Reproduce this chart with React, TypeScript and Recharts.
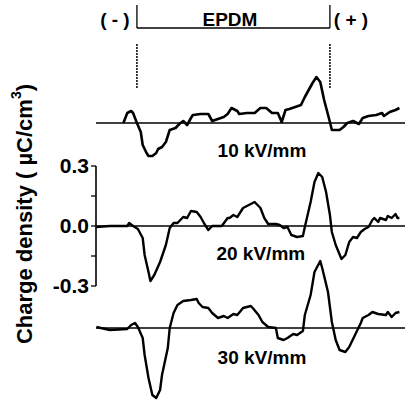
import React from "react";
import { LineChart, Line, XAxis, YAxis, ReferenceLine, ReferenceDot } from "recharts";

// position across the sample, % of thickness ((-) electrode = 0, (+) electrode = 100)
const pos10 = [-7, -5, -3, -2, 0, 2, 3, 5, 6, 8, 10, 11, 13, 15, 17, 20, 22, 24, 26, 28, 29, 33, 37, 39, 42, 45, 47, 49, 52, 53, 57, 61, 64, 67, 70, 73, 75, 77, 79, 82, 85, 87, 91, 93, 95, 97, 100, 101, 105, 107, 109, 112, 115, 117, 120, 124, 127, 128, 131, 134, 136];
const q10 = [0, 0.05, 0.06, 0.05, 0, -0.045, -0.11, -0.15, -0.165, -0.165, -0.15, -0.13, -0.12, -0.095, -0.035, -0.025, -0.005, 0.01, -0.01, 0.025, 0.04, 0.045, 0.045, 0.01, 0.02, 0.03, 0.045, 0.075, 0.06, 0.045, 0.05, 0.05, 0.075, 0.075, 0.05, 0.05, 0.005, 0.065, 0.07, 0.08, 0.09, 0.13, 0.2, 0.23, 0.205, 0.115, 0.005, -0.035, -0.035, -0.02, 0, 0.01, -0.005, 0.025, 0.035, 0.04, 0.05, 0.035, 0.055, 0.065, 0.075];

const pos20 = [-21, -14, -5, -4, -2, 0.5, 3, 4, 6, 7, 9, 12, 15, 17, 19, 21, 24, 26, 28, 31, 33, 35, 37, 39, 44, 47, 48, 50, 52, 55, 59, 61, 64, 66, 68, 72, 74, 76, 78, 80, 83, 86, 87, 90, 92, 94, 96, 98, 100, 101, 103, 106, 108, 110, 112, 114, 116, 118, 120, 122, 123, 125, 126, 129, 130, 132, 134, 135, 136];
const q20 = [-0.005, 0, 0, 0.015, 0, -0.015, -0.06, -0.145, -0.23, -0.275, -0.245, -0.18, -0.095, -0.01, 0.015, 0.015, 0.045, 0.04, 0.075, 0.07, 0.045, 0.01, -0.02, 0, 0, 0.04, 0.04, 0.055, 0.045, 0.09, 0.11, 0.12, 0.09, 0.04, 0.01, 0.01, 0.005, -0.01, -0.005, -0.045, -0.055, -0.05, -0.005, 0.12, 0.22, 0.265, 0.245, 0.17, 0.055, -0.03, -0.095, -0.165, -0.145, -0.08, -0.055, -0.06, -0.03, -0.015, -0.005, 0.03, 0.04, 0.02, 0.04, 0.03, 0.05, 0.04, 0.06, 0.04, 0.04];

const pos30 = [-21, -14, -5, -3, -1, 0.5, 3, 4, 6, 8, 10, 12, 13, 16, 17, 19, 21, 24, 28, 31, 32, 34, 37, 39, 42, 45, 47, 50, 52, 55, 59, 60, 63, 65, 68, 72, 73, 76, 78, 81, 83, 86, 87, 90, 92, 95, 96, 99, 101, 103, 105, 108, 110, 113, 116, 117, 120, 122, 125, 129, 130, 132, 134, 136];
const q30 = [0.005, -0.01, -0.005, 0.015, 0.025, 0.005, -0.05, -0.135, -0.25, -0.335, -0.35, -0.31, -0.235, -0.1, 0, 0.075, 0.115, 0.135, 0.14, 0.145, 0.125, 0.105, 0.1, 0.075, 0.05, 0.06, 0.05, 0.07, 0.065, 0.1, 0.11, 0.1, 0.065, 0.03, 0.005, 0, -0.05, -0.06, -0.05, -0.03, -0.035, -0.015, 0.065, 0.165, 0.28, 0.335, 0.3, 0.18, 0.03, -0.06, -0.11, -0.12, -0.095, -0.035, 0.025, 0.05, 0.065, 0.08, 0.07, 0.065, 0.08, 0.055, 0.075, 0.08];

// vertical offsets of the stacked curves
const OFFSET_10 = 0.515;
const OFFSET_20 = 0;
const OFFSET_30 = -0.51;

const yTicks = [0.3, 0.15, 0, -0.15, -0.3];
const fieldLabels = ["10 kV/mm", "20 kV/mm", "30 kV/mm"];

const X_MIN = -21.2;
const X_MAX = 138.9;

const build = (xs: number[], qs: number[], off: number) =>
  xs.map((x, i) => ({ x, y: qs[i] + off }));

const d10 = build(pos10, q10, OFFSET_10);
const d20 = build(pos20, q20, OFFSET_20);
const d30 = build(pos30, q30, OFFSET_30);

const FONT = "'Liberation Sans', Arial, Helvetica, sans-serif";
const txt = { fill: "#000", fontSize: 19, fontWeight: "bold" as const, fontFamily: FONT };

const YLabel = () => (
  <text
    x={24}
    y={214}
    transform="rotate(-90 24 214)"
    textAnchor="middle"
    dominantBaseline="central"
    fill="#000"
    fontSize={22}
    fontWeight="bold"
    fontFamily={FONT}
  >
    Charge density ( µC/cm
    <tspan dy={-8} fontSize={14}>3</tspan>
    <tspan dy={8}>)</tspan>
  </text>
);

export default function App() {
  return (
    <div style={{ position: "absolute", left: 0, top: 0, background: "#fff", fontFamily: FONT }}>
      <LineChart width={405} height={401} margin={{ top: 0, right: 0, bottom: 0, left: 0 }}>
        <XAxis type="number" dataKey="x" domain={[X_MIN, X_MAX]} allowDataOverflow hide />
        <YAxis
          type="number"
          domain={[-0.875, 1.13]}
          allowDataOverflow
          width={96}
          ticks={yTicks}
          interval={0}
          axisLine={false}
          tickLine={{ stroke: "#000", strokeWidth: 1.3 }}
          tickSize={5}
          tickMargin={2}
          tick={{ ...txt, fontSize: 21 }}
          tickFormatter={(v: number) => (Math.abs(v) === 0.15 ? "" : v.toFixed(1))}
          label={<YLabel />}
        />

        {/* short y axis */}
        <ReferenceLine
          segment={[{ x: X_MIN, y: -0.3 }, { x: X_MIN, y: 0.3 }]}
          stroke="#000"
          strokeWidth={1.6}
          ifOverflow="visible"
        />

        {/* baselines */}
        <ReferenceLine y={OFFSET_10} stroke="#000" strokeWidth={1.6} />
        <ReferenceLine y={OFFSET_20} stroke="#000" strokeWidth={1.6} />
        <ReferenceLine y={OFFSET_30} stroke="#000" strokeWidth={1.6} />

        {/* electrodes */}
        <ReferenceLine segment={[{ x: 0, y: 0.69 }, { x: 0, y: 0.915 }]} stroke="#000" strokeWidth={1.5} strokeDasharray="2 1" />
        <ReferenceLine segment={[{ x: 100, y: 0.69 }, { x: 100, y: 0.915 }]} stroke="#000" strokeWidth={1.5} strokeDasharray="2 1" />

        {/* EPDM bracket */}
        <ReferenceLine segment={[{ x: 0, y: 0.99 }, { x: 100, y: 0.99 }]} stroke="#000" strokeWidth={1.3} />
        <ReferenceLine segment={[{ x: 0, y: 0.99 }, { x: 0, y: 1.105 }]} stroke="#000" strokeWidth={1.3} />
        <ReferenceLine segment={[{ x: 100, y: 0.99 }, { x: 100, y: 1.105 }]} stroke="#000" strokeWidth={1.3} />

        <ReferenceDot x={48.2} y={1.035} r={0} stroke="none" fill="none" label={{ value: "EPDM", position: "center", ...txt }} />
        <ReferenceDot x={-11.4} y={1.035} r={0} stroke="none" fill="none" label={{ value: "( - )", position: "center", ...txt }} />
        <ReferenceDot x={110.9} y={1.035} r={0} stroke="none" fill="none" label={{ value: "( + )", position: "center", ...txt }} />

        <ReferenceDot x={64.8} y={0.38} r={0} stroke="none" fill="none" label={{ value: fieldLabels[0], position: "center", ...txt }} />
        <ReferenceDot x={64.2} y={-0.135} r={0} stroke="none" fill="none" label={{ value: fieldLabels[1], position: "center", ...txt }} />
        <ReferenceDot x={64.8} y={-0.655} r={0} stroke="none" fill="none" label={{ value: fieldLabels[2], position: "center", ...txt }} />

        <Line data={d10} dataKey="y" type="linear" stroke="#000" strokeWidth={2.6} strokeLinejoin="round" dot={false} isAnimationActive={false} />
        <Line data={d20} dataKey="y" type="linear" stroke="#000" strokeWidth={2.4} strokeLinejoin="round" dot={false} isAnimationActive={false} />
        <Line data={d30} dataKey="y" type="linear" stroke="#000" strokeWidth={2.4} strokeLinejoin="round" dot={false} isAnimationActive={false} />
      </LineChart>
    </div>
  );
}
